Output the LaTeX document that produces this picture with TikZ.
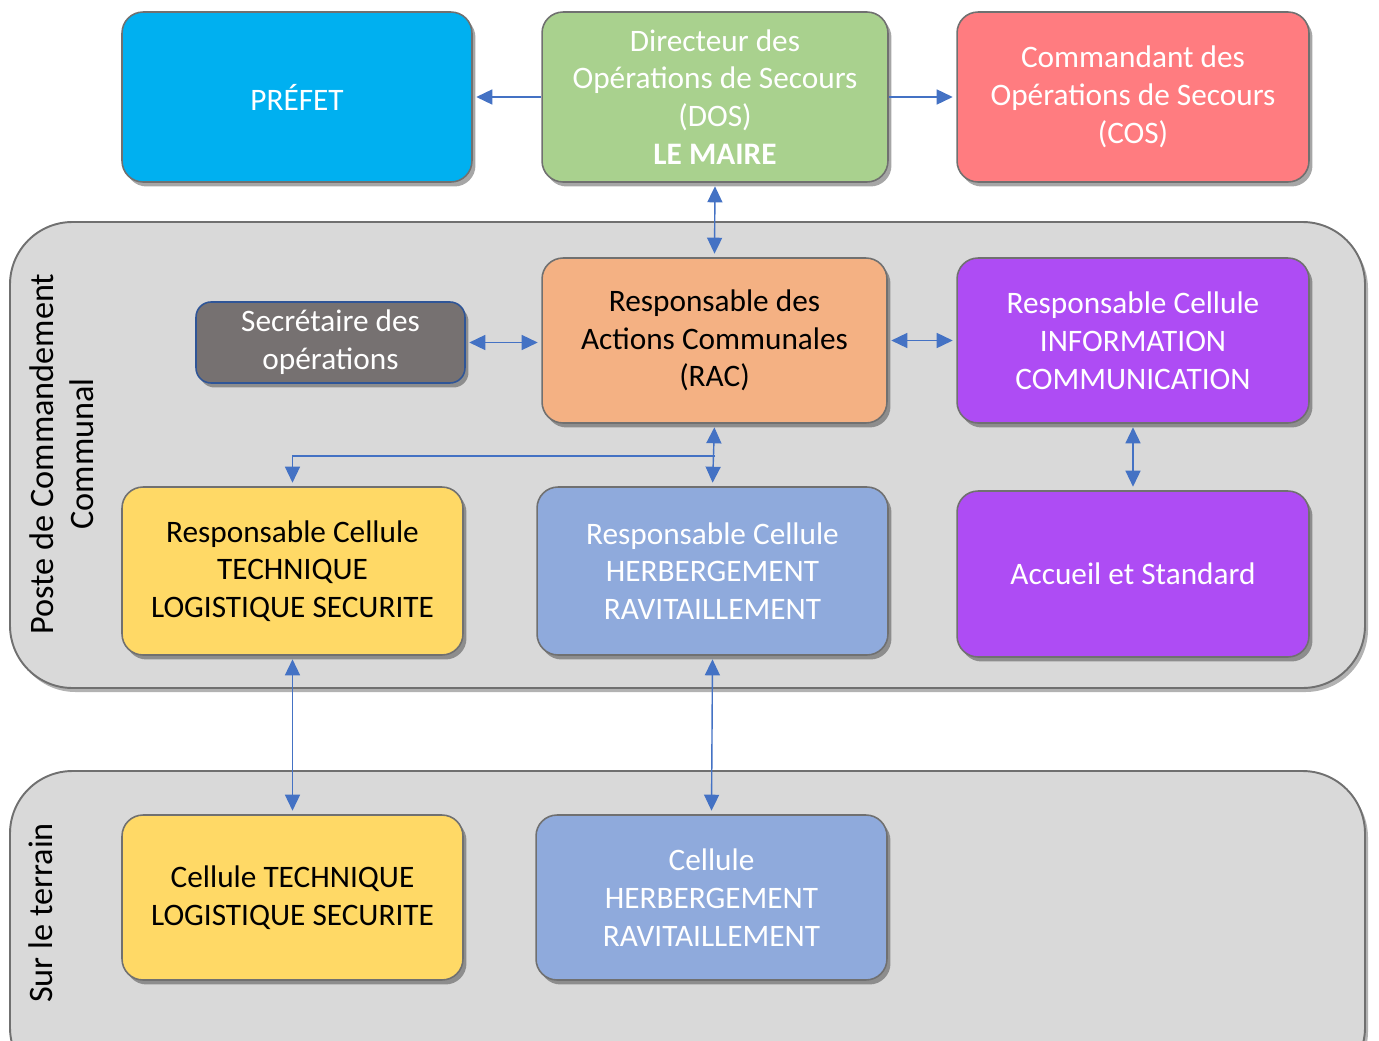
\documentclass[tikz,border=0pt]{standalone}
\usepackage{fontspec}
\setmainfont{Carlito}
\usetikzlibrary{shadows,arrows.meta}
\definecolor{cblue}{HTML}{00B0F0}
\definecolor{cgreen}{HTML}{A9D18E}
\definecolor{cred}{HTML}{FF7C80}
\definecolor{cgray}{HTML}{767171}
\definecolor{cnavy}{HTML}{2F5597}
\definecolor{corange}{HTML}{F4B183}
\definecolor{cpurple}{HTML}{AE4CF4}
\definecolor{cyellow}{HTML}{FFD966}
\definecolor{cpale}{HTML}{8FAADC}
\definecolor{cbg}{HTML}{D9D9D9}
\definecolor{cborder}{HTML}{707070}
\definecolor{carrow}{HTML}{4472C4}
\tikzset{
  box/.style={draw=cborder, line width=0.9pt, rounded corners=0.42cm, align=center,
    inner sep=2pt, font=\fontsize{17.8}{21.5}\selectfont,
    drop shadow={shadow xshift=0.07cm, shadow yshift=-0.09cm, opacity=0.35, fill=black}},
  container/.style={draw=cborder, line width=1.1pt, fill=cbg, rounded corners=1.25cm,
    drop shadow={shadow xshift=0.06cm, shadow yshift=-0.08cm, opacity=0.3, fill=black}},
  tip/.style={},
  arr/.style={draw=carrow, line width=0.8pt, {Triangle[length=0.32cm,width=0.3cm]}-{Triangle[length=0.32cm,width=0.3cm]}, shorten <=2pt, shorten >=2pt},
  arrone/.style={draw=carrow, line width=0.8pt, -{Triangle[length=0.32cm,width=0.3cm]}, shorten >=2pt},
  lbl/.style={font=\fontsize{19.5}{23}\selectfont, align=center, rotate=90}
}
\begin{document}
\begin{tikzpicture}[x=0.02cm,y=-0.02cm]
\useasboundingbox (0,0) rectangle (1379,1041);
\clip (0,0) rectangle (1379,1041);
% containers
\path[container] (10,222) rectangle (1365,688);
\path[container] (10,771) rectangle (1365,1090);
\node[lbl] (pcc) at (62,454) {Poste de Commandement\\Communal};
\node[lbl] (terrain) at (41,913) {Sur le terrain};
% top row
\node[box, fill=cblue, text=white, minimum width=7.0cm, minimum height=3.4cm] (prefet) at (297,97) {PRÉFET};
\node[box, fill=cgreen, text=white, minimum width=6.92cm, minimum height=3.4cm] (dos) at (715,97) {Directeur des\\Opérations de Secours\\(DOS)\\\textbf{LE MAIRE}};
\node[box, fill=cred, text=white, minimum width=7.04cm, minimum height=3.4cm] (cos) at (1133,97) {Commandant des\\Opérations de Secours\\(COS)};
% PCC
\node[box, draw=cnavy, fill=cgray, text=white, minimum width=5.38cm, minimum height=1.62cm, rounded corners=0.3cm] (sec) at (330.5,342.5) {Secrétaire des\\opérations};
\node[box, fill=corange, text=black, minimum width=6.9cm, minimum height=3.3cm] (rac) at (714.5,340.5) {Responsable des\\Actions Communales\\(RAC)};
\node[box, fill=cpurple, text=white, minimum width=7.04cm, minimum height=3.3cm] (info) at (1133,340.5) {Responsable Cellule\\INFORMATION\\COMMUNICATION};
\node[box, fill=cyellow, text=black, minimum width=6.82cm, minimum height=3.36cm] (tech) at (292.5,571) {Responsable Cellule\\TECHNIQUE\\LOGISTIQUE SECURITE};
\node[box, fill=cpale, text=white, minimum width=7.02cm, minimum height=3.36cm] (herb) at (712.5,571) {Responsable Cellule\\HERBERGEMENT\\RAVITAILLEMENT};
\node[box, fill=cpurple, text=white, minimum width=7.04cm, minimum height=3.32cm] (accueil) at (1133,574) {Accueil et Standard};
% terrain
\node[box, fill=cyellow, text=black, minimum width=6.82cm, minimum height=3.3cm] (celltech) at (292.5,897.5) {Cellule TECHNIQUE\\LOGISTIQUE SECURITE};
\node[box, fill=cpale, text=white, minimum width=7.02cm, minimum height=3.3cm] (cellherb) at (711.5,897.5) {Cellule\\HERBERGEMENT\\RAVITAILLEMENT};
% connectors
\draw[arrone] (dos.west) -- (prefet.east);
\draw[arrone] (dos.east) -- (cos.west);
\draw[arr] (dos.south) -- (rac.north);
\draw[arr] (sec.east) -- (sec.east -| rac.west);
\draw[arr] (rac.east) -- (info.west);
\draw[arr] (info.south) -- (accueil.north);
\draw[arr] (rac.south) -- (herb.north);
\coordinate (branch) at (715,456);
\draw[arrone] (branch) -| (tech.north);
\draw[arr] (tech.south) -- (celltech.north);
\draw[arr] (herb.south) -- (cellherb.north);
\end{tikzpicture}
\end{document}
